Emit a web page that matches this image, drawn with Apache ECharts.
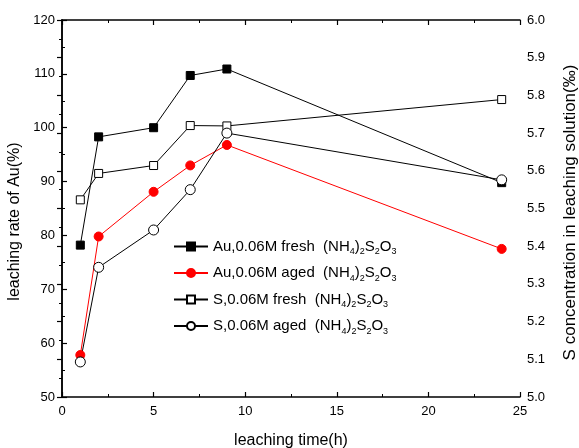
<!DOCTYPE html>
<html>
<head>
<meta charset="utf-8">
<script src="https://cdn.jsdelivr.net/npm/echarts@6/dist/echarts.min.js"></script>
<style>
html,body{margin:0;padding:0;background:#fff;overflow:hidden;}
#chart{width:579px;height:448px;}
</style>
</head>
<body>
<div id="chart"></div>
<script>
const times = [1, 2, 5, 7, 9, 24];
const auFresh = [78.2, 98.3, 100.0, 109.7, 110.9, 89.8];
const auAged = [57.8, 79.8, 88.1, 93.0, 96.8, 77.5];
const sFresh = [5.523, 5.593, 5.614, 5.72, 5.719, 5.789];
const sAged = [5.093, 5.344, 5.443, 5.55, 5.70, 5.576];
const seriesNames = ['Au,0.06M fresh', 'Au,0.06M aged', 'S,0.06M fresh', 'S,0.06M aged'];

const FONT = '"Liberation Sans", Arial, sans-serif';
const pairs = arr => times.map((t, i) => [t, arr[i]]);

const chart = echarts.init(document.getElementById('chart'), null, {renderer: 'canvas'});

const axisCommon = {
  axisLine: {show: true, lineStyle: {color: '#000', width: 1.5}},
  axisTick: {show: true, inside: true, length: 5, lineStyle: {color: '#000', width: 1.2}},
  minorTick: {show: true, splitNumber: 2, length: 3, lineStyle: {color: '#000', width: 1}},
  splitLine: {show: false},
  axisLabel: {color: '#000', fontFamily: FONT, fontSize: 13},
  nameTextStyle: {color: '#000', fontFamily: FONT, fontSize: 16}
};

chart.setOption({
  animation: false,
  backgroundColor: '#fff',
  grid: {left: 62, right: 59, top: 20, bottom: 51, containLabel: false, outerBoundsMode: 'none'},
  legend: {
    orient: 'vertical',
    left: 173,
    top: 239,
    padding: 0,
    itemWidth: 34,
    itemHeight: 10,
    itemGap: 9,
    data: seriesNames,
    formatter: name => `{n|${name}  (NH}{s|4}{n|)}{s|2}{n|S}{s|2}{n|O}{s|3}`,
    textStyle: {
      color: '#000',
      fontFamily: FONT,
      rich: {
        n: {fontSize: 15, lineHeight: 20, fontFamily: FONT, color: '#000'},
        s: {fontSize: 9, lineHeight: 9, verticalAlign: 'bottom', fontFamily: FONT, color: '#000'}
      }
    }
  },
  xAxis: [
    Object.assign({}, axisCommon, {
      type: 'value', min: 0, max: 25, interval: 5, position: 'bottom',
      name: 'leaching time(h)', nameLocation: 'middle', nameGap: 36,
      axisLabel: Object.assign({}, axisCommon.axisLabel, {margin: 8})
    }),
    Object.assign({}, axisCommon, {
      type: 'value', min: 0, max: 25, interval: 5, position: 'top',
      axisLabel: {show: false}
    })
  ],
  yAxis: [
    Object.assign({}, axisCommon, {
      type: 'value', min: 50, max: 120, interval: 10, position: 'left',
      name: 'leaching rate of Au(%)', nameLocation: 'middle', nameGap: 36,
      nameTextStyle: Object.assign({}, axisCommon.nameTextStyle, {padding: [0, 26, 0, 0]}),
      axisLabel: Object.assign({}, axisCommon.axisLabel, {margin: 7})
    }),
    Object.assign({}, axisCommon, {
      type: 'value', min: 5.0, max: 6.0, interval: 0.1, position: 'right',
      name: 'S concentration in leaching solution(‰)', nameLocation: 'middle', nameGap: 42,
      nameRotate: 90,
      nameTextStyle: Object.assign({}, axisCommon.nameTextStyle, {fontSize: 17, padding: [0, 8, 0, 0]}),
      axisLabel: Object.assign({}, axisCommon.axisLabel, {margin: 7, formatter: v => v.toFixed(1)})
    })
  ],
  series: [
    {
      name: seriesNames[0], type: 'line', xAxisIndex: 0, yAxisIndex: 0,
      data: pairs(auFresh), symbol: 'rect', symbolSize: 8,
      lineStyle: {color: '#000', width: 1},
      itemStyle: {color: '#000', borderColor: '#000', borderWidth: 1}
    },
    {
      name: seriesNames[1], type: 'line', xAxisIndex: 0, yAxisIndex: 0,
      data: pairs(auAged), symbol: 'circle', symbolSize: 9,
      lineStyle: {color: '#ff0000', width: 1},
      itemStyle: {color: '#ff0000', borderColor: '#ff0000', borderWidth: 1}
    },
    {
      name: seriesNames[2], type: 'line', xAxisIndex: 0, yAxisIndex: 1,
      data: pairs(sFresh), symbol: 'rect', symbolSize: 8,
      lineStyle: {color: '#000', width: 1},
      itemStyle: {color: '#fff', borderColor: '#000', borderWidth: 1}
    },
    {
      name: seriesNames[3], type: 'line', xAxisIndex: 0, yAxisIndex: 1,
      data: pairs(sAged), symbol: 'circle', symbolSize: 10,
      lineStyle: {color: '#000', width: 1},
      itemStyle: {color: '#fff', borderColor: '#000', borderWidth: 1}
    }
  ]
});
</script>
</body>
</html>
